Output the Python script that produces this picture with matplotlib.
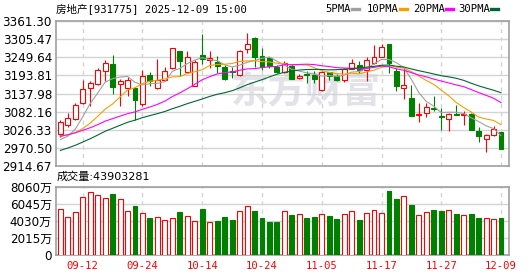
import numpy as np
import pandas as pd
import matplotlib
matplotlib.use('Agg')
import matplotlib.pyplot as plt
from matplotlib.lines import Line2D

# daily bars 2025-09-09 .. 2025-12-09
opens = [3013, 3040, 3060, 3108, 3154, 3166, 3207, 3229, 3166, 3154,
         3154, 3106, 3195, 3154, 3180, 3216, 3269, 3205, 3162, 3256,
         3242, 3236, 3221, 3207, 3195, 3274, 3310, 3253, 3247, 3219,
         3205, 3224, 3186, 3198, 3195, 3149, 3203, 3192, 3180, 3214,
         3226, 3210, 3231, 3251, 3290, 3207, 3154, 3124, 3072, 3078,
         3094, 3069, 3060, 3075, 3073, 3076, 3024, 2998, 3011, 3018]
highs = [3056, 3079, 3108, 3180, 3177, 3215, 3241, 3256, 3182, 3188,
         3157, 3210, 3205, 3243, 3221, 3277, 3269, 3269, 3241, 3321,
         3270, 3253, 3226, 3220, 3272, 3325, 3312, 3277, 3251, 3226,
         3238, 3229, 3198, 3208, 3208, 3208, 3205, 3198, 3216, 3244,
         3238, 3251, 3287, 3290, 3290, 3215, 3216, 3164, 3108, 3108,
         3131, 3093, 3078, 3103, 3085, 3078, 3035, 3014, 3039, 3019]
lows = [3003, 3036, 3057, 3105, 3098, 3165, 3175, 3136, 3100, 3129,
        3057, 3100, 3161, 3153, 3178, 3212, 3192, 3200, 3160, 3229,
        3215, 3202, 3181, 3187, 3192, 3262, 3220, 3210, 3218, 3202,
        3202, 3183, 3183, 3170, 3170, 3147, 3180, 3177, 3172, 3212,
        3200, 3177, 3230, 3249, 3200, 3147, 3120, 3069, 3050, 3065,
        3083, 3025, 3023, 3071, 3042, 3025, 2988, 2958, 3008, 2966]
closes = [3050, 3062, 3103, 3151, 3170, 3210, 3231, 3157, 3175, 3180,
          3119, 3192, 3175, 3180, 3207, 3277, 3238, 3249, 3234, 3244,
          3246, 3224, 3183, 3203, 3269, 3291, 3250, 3219, 3223, 3204,
          3231, 3184, 3193, 3196, 3183, 3203, 3192, 3180, 3212, 3233,
          3210, 3242, 3249, 3280, 3232, 3162, 3164, 3070, 3075, 3096,
          3090, 3065, 3076, 3073, 3076, 3027, 3006, 3011, 3030, 2967]
volumes = [5426, 4443, 5072, 6842, 7432, 7078, 6684, 7235, 6606, 5190,
           5780, 4954, 4365, 4443, 4129, 4365, 5072, 4600, 4050, 5426,
           3893, 4050, 4443, 4129, 5190, 5741, 5190, 4365, 3932, 3932,
           5190, 4718, 4797, 4365, 4482, 4836, 4600, 4247, 4836, 5190,
           4129, 4954, 5308, 4954, 7549, 6606, 6960, 5898, 4718, 5072,
           5308, 5190, 5308, 4836, 4718, 4836, 4365, 4365, 4247, 4390]
# closes of the 29 sessions before the window, back-solved from where the MA lines start
pre_closes = [2840, 2850, 2855, 2862, 2870, 2878, 2885, 2895, 2905, 2920,
              2960, 2985, 3000, 3010, 3020, 3015, 3005, 3020, 3025, 3010,
              3030, 3035, 3020, 3005, 3000, 3010, 2995, 2960, 2965]

date_ticks = [3, 11, 19, 27, 35, 43, 51, 59]
date_labels = ['09-12', '09-24', '10-14', '10-24', '11-05', '11-17', '11-27', '12-09']
price_ticks = [2914.67, 2970.50, 3026.33, 3082.16, 3137.98, 3193.81, 3249.64, 3305.47, 3361.30]
vol_ticks = [0, 2015, 4030, 6045, 8060]
vol_labels = ['0', '2015万', '4030万', '6045万', '8060万']
ma_periods = [5, 10, 20, 30]
ma_colors = ['#a0a0a0', '#f5a000', '#ff00ff', '#006633']

RED = '#ff0000'
GREEN = '#008000'
FRAME = '#a0a0a0'
GRID = '#d4d4d4'
W, H = 530, 276

o = np.array(opens, float)
h = np.array(highs, float)
l = np.array(lows, float)
c = np.array(closes, float)
x = np.arange(len(c))
up = c >= o
edge = np.where(up, RED, GREEN)
face = np.where(up, 'white', GREEN)

fig = plt.figure(figsize=(W / 100, H / 100), dpi=100)
ax = fig.add_axes([56 / W, 1 - 166 / H, 453 / W, 145 / H])
axv = fig.add_axes([56 / W, 1 - 255 / H, 453 / W, 68.5 / H])

# watermark
ax.text(0.552, 0.51, '东方财富', transform=ax.transAxes, ha='center', va='center',
        fontsize=27, color='#e2e2e8', family='Noto Sans CJK SC', weight='bold', zorder=0.1)

# candles
ax.vlines(x, l, h, colors=edge, linewidth=0.8, zorder=2)
body = np.maximum(np.abs(c - o), 1.0)
ax.bar(x, body, bottom=np.minimum(o, c), width=0.66, color=face, edgecolor=edge,
       linewidth=0.8, zorder=3)

# moving averages
full = pd.Series(pre_closes + closes, dtype=float)
for n, col in zip(ma_periods, ma_colors):
    ma = full.rolling(n).mean().iloc[len(pre_closes):].to_numpy()
    ax.plot(x, ma, color=col, linewidth=0.8, zorder=4)

# volume
axv.bar(x, volumes, width=0.66, color=face, edgecolor=edge, linewidth=0.8, zorder=3)

for a in (ax, axv):
    a.set_xlim(-0.58, 60.07)
    a.set_axisbelow(True)
    for s in a.spines.values():
        s.set_color(FRAME)
        s.set_linewidth(1.2)
    a.tick_params(length=0, labelsize=8.6, pad=3)
    a.yaxis.grid(True, color=GRID, linewidth=1.0)
    a.xaxis.grid(True, color=GRID, linewidth=1.0, linestyle=(0, (3, 3)))
    a.set_xticks(date_ticks)

ax.set_ylim(price_ticks[0], price_ticks[-1])
ax.set_yticks(price_ticks, [f'{v:.2f}' for v in price_ticks])
ax.set_xticklabels([])

axv.set_ylim(0, vol_ticks[-1])
axv.set_yticks(vol_ticks, vol_labels, family=['DejaVu Sans', 'Noto Sans CJK SC'])
axv.set_xticklabels(date_labels, color=RED, family='DejaVu Sans Mono', fontsize=7.6)
axv.tick_params(axis='x', pad=4)

# title and legend
fig.text(56 / W, 1 - 9 / H, '房地产[931775] 2025-12-09 15:00', va='center',
         family=['DejaVu Sans Mono', 'Noto Sans CJK SC'], fontsize=7.6)
fig.text(57 / W, 1 - 177 / H, '成交量:43903281', va='center',
         family=['DejaVu Sans', 'Noto Sans CJK SC'], fontsize=8)

leg_x = [325, 367, 413, 458]
for n, col, lx in zip(ma_periods, ma_colors, leg_x):
    fig.text(lx / W, 1 - 9 / H, f'{n}PMA', va='center', family='DejaVu Sans Mono', fontsize=7.6)
    dx = 4 + 5.8 * len(f'{n}PMA')
    fig.add_artist(Line2D([(lx + dx) / W, (lx + dx + 7) / W], [1 - 9 / H] * 2,
                          transform=fig.transFigure, color=col, linewidth=2.4))

fig.savefig('out.png', dpi=100)
